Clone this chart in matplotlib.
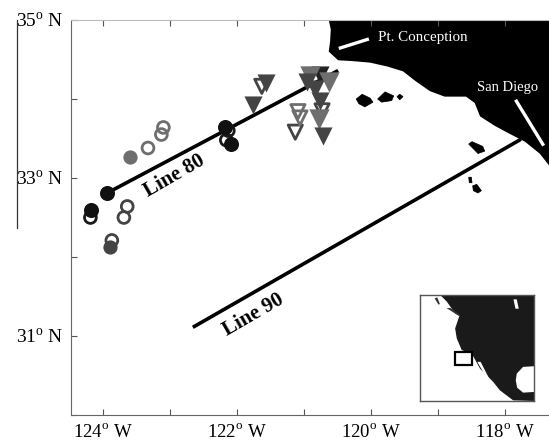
import matplotlib
matplotlib.use('Agg')
import matplotlib.pyplot as plt
from matplotlib.lines import Line2D

plt.rcParams['font.family'] = ['Liberation Serif', 'DejaVu Serif']
plt.rcParams['mathtext.fontset'] = 'custom'
plt.rcParams['mathtext.rm'] = 'Liberation Serif'

# station positions, lon / lat
circ_black_lon = [-123.94, -124.18, -122.18, -122.09]
circ_black_lat = [32.81, 32.59, 33.65, 33.43]
circ_dark_lon = [-123.90]
circ_dark_lat = [32.13]
circ_gray_lon = [-123.60]
circ_gray_lat = [33.26]
open_black_lon = [-124.19, -122.13, -122.16]
open_black_lat = [32.50, 33.60, 33.48]
open_dark_lon = [-123.64, -123.69, -123.87]
open_dark_lat = [32.64, 32.50, 32.21]
open_gray_lon = [-123.33, -123.13, -123.10]
open_gray_lat = [33.38, 33.55, 33.64]

tri_dark_lon = [-121.76, -121.57, -120.96, -120.84, -120.76, -120.72]
tri_dark_lat = [33.93, 34.20, 34.22, 34.13, 33.98, 33.53]
tri_black_lon = [-120.76]
tri_black_lat = [34.31]
tri_gray_lon = [-120.91, -120.63, -120.78]
tri_gray_lat = [34.29, 34.21, 33.75]
topen_dark_lon = [-121.63, -120.73, -121.13]
topen_dark_lat = [34.16, 33.85, 33.58]
topen_gray_lon = [-121.09, -121.06]
topen_gray_lat = [33.84, 33.76]

# cruise lines and pointers
line80_lon = [-123.94, -120.49]
line80_lat = [32.81, 34.36]
line90_lon = [-122.66, -117.76]
line90_lat = [31.11, 33.49]
pt_lon = [-120.48, -120.03]
pt_lat = [34.64, 34.76]
sd_lon = [-117.84, -117.42]
sd_lat = [33.99, 33.41]

# land
coast_lon = [-120.63, -120.60, -120.61, -120.63, -120.49, -120.28, -120.01, -119.75, -119.52, -119.34,
             -119.12, -118.90, -118.58, -118.45, -118.37, -118.15, -117.93, -117.70, -117.48, -117.34, -117.34]
coast_lat = [35, 34.88, 34.73, 34.60, 34.49, 34.48, 34.46, 34.41, 34.35, 34.23,
             34.10, 34.03, 34.03, 33.95, 33.78, 33.66, 33.56, 33.46, 33.31, 33.16, 35]
islands = [
    ([-120.22, -120.13, -120.01, -119.97, -120.09, -120.18], [34.00, 34.06, 34.01, 33.96, 33.90, 33.94]),
    ([-119.90, -119.79, -119.66, -119.69, -119.84], [34.00, 34.09, 34.04, 33.98, 33.96]),
    ([-119.61, -119.57, -119.52, -119.57], [34.03, 34.06, 34.03, 33.99]),
    ([-118.54, -118.49, -118.33, -118.30, -118.40], [33.43, 33.46, 33.40, 33.34, 33.31]),
    ([-118.54, -118.50, -118.49, -118.53], [33.01, 33.01, 32.94, 32.94]),
    ([-118.48, -118.42, -118.35, -118.40, -118.47], [32.90, 32.92, 32.84, 32.81, 32.84]),
]

# inset map, in inset units
ins_land_x = [61, 81, 106, 119, 106, 111, 126, 156, 181, 221, 241, 281, 344, 344]
ins_land_y = [317, 297, 262, 255, 217, 187, 152, 142, 97, 57, 32, 2, 0, 317]
ins_gulf_x = [289, 292, 311, 344, 344, 311, 293]
ins_gulf_y = [62, 82, 102, 104, 27, 25, 40]
ins_baja_x = [173, 183, 215, 209]
ins_baja_y = [117, 117, 55, 55]
ins_isl_x = [282, 292, 298, 288]
ins_isl_y = [304, 304, 276, 276]
ins_small1_x = [44, 52, 60, 56]
ins_small1_y = [307, 310, 290, 288]
ins_small2_x = [80, 92, 120, 118]
ins_small2_y = [278, 278, 258, 254]
ins_box_x = [106, 156, 156, 106, 106]
ins_box_y = [147, 147, 107, 107, 147]

xt_major = [-124, -122, -120, -118]
xt_labels = ['124$^{\\mathrm{o}}$ W', '122$^{\\mathrm{o}}$ W', '120$^{\\mathrm{o}}$ W', '118$^{\\mathrm{o}}$ W']
xt_minor = [-123, -121, -119]
yt_major = [31, 33, 35]
yt_labels = ['31$^{\\mathrm{o}}$ N', '33$^{\\mathrm{o}}$ N', '35$^{\\mathrm{o}}$ N']
yt_minor = [30, 32, 34]

fig = plt.figure(figsize=(5.49, 4.45), dpi=100)
ax = fig.add_axes([71/549, 1-415/445, 478/549, 395/445])
ax.set_xlim(-124.48, -117.34)
ax.set_ylim(30.06, 35)

ax.fill(coast_lon, coast_lat, color='black', lw=0, zorder=1)
for lo, la in islands:
    ax.fill(lo, la, color='black', lw=0.5, zorder=1)

ax.plot(line80_lon, line80_lat, color='black', lw=2.6, zorder=2, solid_capstyle='butt')
ax.plot(line90_lon, line90_lat, color='black', lw=2.6, zorder=2, solid_capstyle='butt')
ax.plot(pt_lon, pt_lat, color='white', lw=2.4, zorder=2, solid_capstyle='butt')
ax.plot(sd_lon, sd_lat, color='white', lw=2.4, zorder=2, solid_capstyle='butt')

def filled(x, y, m, c, s):
    ax.scatter(x, y, marker=m, s=s, color=c, linewidths=0, zorder=4)

def hollow(x, y, m, c, s):
    ax.scatter(x, y, marker=m, s=s, facecolors='none', edgecolors=c, linewidths=2, zorder=3)

hollow(open_black_lon, open_black_lat, 'o', '#1a1a1a', 72)
hollow(open_dark_lon, open_dark_lat, 'o', '#444444', 72)
hollow(open_gray_lon, open_gray_lat, 'o', '#6e6e6e', 72)
filled(circ_black_lon, circ_black_lat, 'o', '#111111', 117)
filled(circ_dark_lon, circ_dark_lat, 'o', '#444444', 105)
filled(circ_gray_lon, circ_gray_lat, 'o', '#6e6e6e', 105)
hollow(topen_dark_lon, topen_dark_lat, 'v', '#444444', 105)
hollow(topen_gray_lon, topen_gray_lat, 'v', '#6e6e6e', 105)
filled(tri_black_lon, tri_black_lat, 'v', '#222222', 170)
filled(tri_gray_lon, tri_gray_lat, 'v', '#6e6e6e', 215)
filled(tri_dark_lon, tri_dark_lat, 'v', '#444444', 170)

ax.text(-122.93, 33.02, 'Line 80', rotation=30, ha='center', va='center', fontsize=15, fontweight='bold', zorder=5)
ax.text(-121.76, 31.26, 'Line 90', rotation=30, ha='center', va='center', fontsize=15, fontweight='bold', zorder=5)
ax.text(-119.90, 34.78, 'Pt. Conception', color='white', fontsize=10.8, ha='left', va='center', zorder=5)
ax.text(-117.96, 34.14, 'San Diego', color='white', fontsize=10.5, ha='center', va='center', zorder=5)

ax.set_xticks(xt_major)
ax.set_xticklabels(xt_labels, fontsize=13.5)
ax.set_xticks(xt_minor, minor=True)
ax.set_yticks(yt_major)
ax.set_yticklabels(yt_labels, fontsize=14)
ax.set_yticks(yt_minor, minor=True)
ax.tick_params(which='both', direction='in', top=True, length=4, width=0.8, color='#555555')
ax.tick_params(axis='x', pad=6)
ax.tick_params(axis='y', pad=5)
ax.spines['right'].set_visible(False)
ax.spines['top'].set_color('#bbbbbb')
ax.spines['left'].set_color('#666666')
ax.spines['bottom'].set_color('#666666')

# inset
ins = fig.add_axes([420/549, 1-401/445, 114/549, 106/445])
ins.set_xlim(0, 344)
ins.set_ylim(0, 317)
ins.fill(ins_land_x, ins_land_y, color='#1a1a1a', lw=0)
ins.fill(ins_gulf_x, ins_gulf_y, color='white', lw=0)
ins.fill(ins_baja_x, ins_baja_y, color='white', lw=0)
ins.fill(ins_isl_x, ins_isl_y, color='white', lw=0)
ins.fill(ins_small1_x, ins_small1_y, color='#333333', lw=0)
ins.fill(ins_small2_x, ins_small2_y, color='#333333', lw=0)
ins.fill(ins_box_x, ins_box_y, facecolor='white', edgecolor='black', lw=1.6)
ins.set_xticks([])
ins.set_yticks([])
for s in ins.spines.values():
    s.set_color('#555555')
    s.set_linewidth(1)

# stray rule left of the labels in the original
fig.add_artist(Line2D([17/549, 17/549], [1-20/445, 1-228/445], color='#333333', lw=0.9))

fig.savefig('out.png', dpi=100)
